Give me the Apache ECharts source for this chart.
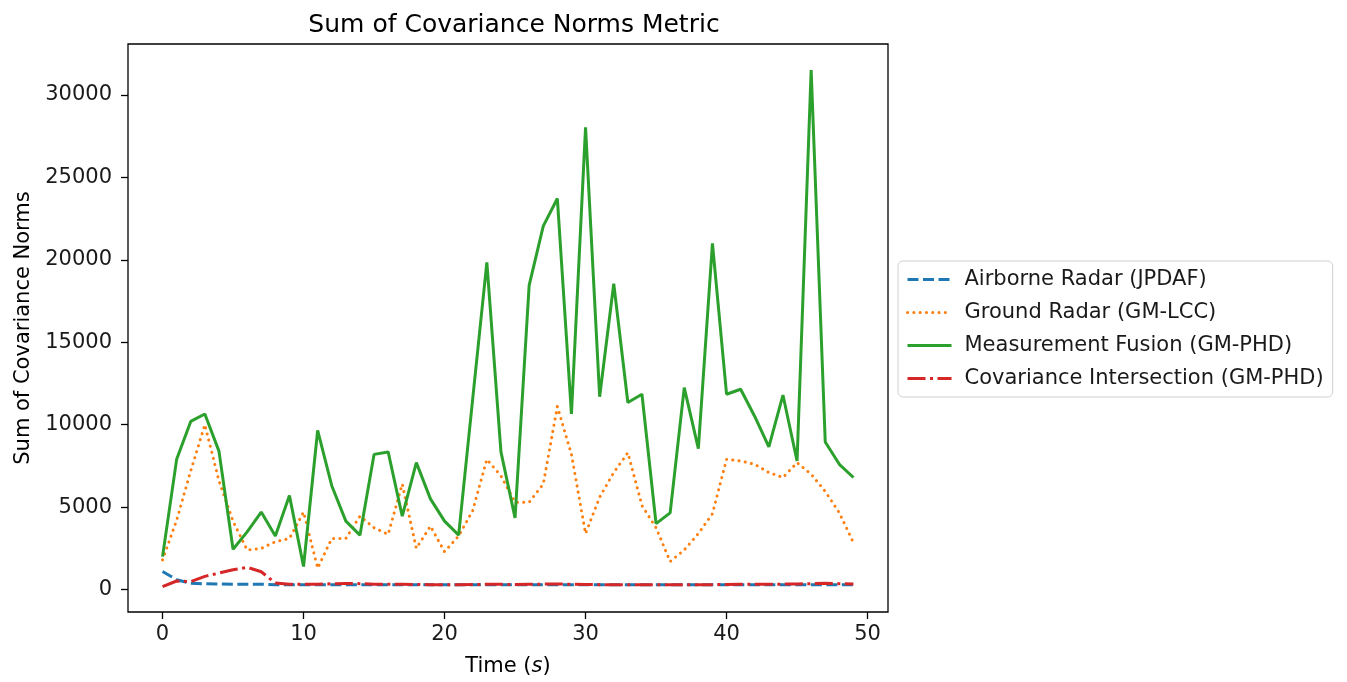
<!DOCTYPE html>
<html><head><meta charset="utf-8">
<script src="https://cdn.jsdelivr.net/npm/echarts@6/dist/echarts.min.js"></script>
<style>html,body{margin:0;padding:0;background:#fff}#c{width:1347px;height:682px}</style>
</head><body><div id="c"></div>
<script>
const time = Array.from({length: 50}, (_, i) => i);
const airborne = [1100,600,380,350,340,330,330,330,300,300,300,300,300,300,300,300,300,300,290,290,290,290,290,290,290,290,290,290,290,290,290,290,290,290,290,290,290,290,290,290,290,290,290,290,290,290,290,290,290,290];
const ground = [1800,4200,7200,10000,6600,4150,2400,2500,2900,3100,4700,1300,3100,3100,4450,3750,3350,6400,2500,3850,2300,3250,4800,7900,6900,5300,5300,6400,11100,8200,3400,5600,7100,8300,5100,3750,1700,2400,3400,4600,7900,7800,7600,7100,6800,7700,7000,5950,4650,2850];
const fusion = [2000,7900,10200,10650,8400,2450,3500,4700,3250,5700,1400,9650,6300,4150,3300,8200,8350,4450,7700,5500,4150,3300,11600,19850,8350,4350,18450,22050,23720,10650,28040,11700,18550,11350,11850,4000,4650,12250,8550,21000,11850,12150,10500,8650,11800,7800,31520,8950,7600,6800];
const covint = [180,520,480,800,1000,1200,1350,1080,400,320,320,320,350,370,360,330,330,320,310,300,300,300,310,320,320,310,320,330,340,320,310,300,300,300,290,290,290,290,290,300,310,320,320,330,330,340,360,380,360,340];
const names = ['Airborne Radar (JPDAF)','Ground Radar (GM-LCC)','Measurement Fusion (GM-PHD)','Covariance Intersection (GM-PHD)'];
const yTicks = [0,5000,10000,15000,20000,25000,30000];
const xTicks = [0,10,20,30,40,50];

const font = 'DejaVu Sans';
const pair = arr => arr.map((v,i)=>[time[i], v]);
const chart = echarts.init(document.getElementById('c'));
const mk = (name, data, color, type, cap) => ({
  name, type:'line', data: pair(data), symbol:'none', showSymbol:false, animation:false,
  lineStyle:{color, width:3, type, cap: cap||'butt'}, itemStyle:{color}
});
chart.setOption({
  animation:false,
  title:{text:'Sum of Covariance Norms Metric', left:509, top:8, textAlign:'center',
    textStyle:{fontFamily:font, fontSize:25, fontWeight:'normal', color:'#000'}},
  grid:{left:128, top:44, right:459, bottom:70, show:true, borderColor:'#000', borderWidth:1.3, backgroundColor:'transparent'},
  legend:{orient:'vertical', left:898, top:261, data:names, itemWidth:44, itemHeight:14, itemGap:12,
    padding:[8,9,8,8], borderColor:'#d0d0d0', borderWidth:1, borderRadius:5, backgroundColor:'#fff',
    itemStyle:{opacity:0}, lineStyle:{width:3},
    textStyle:{fontFamily:font, fontSize:21, color:'#1a1a1a', padding:[0,0,0,8]}},
  xAxis:{type:'value', min:-2.45, max:51.45,
    name:'{n|Time (}{i|s}{n|)}', nameLocation:'middle', nameGap:44,
    nameTextStyle:{rich:{n:{fontFamily:font, fontSize:21, color:'#000'}, i:{fontFamily:font, fontSize:21, fontStyle:'italic', color:'#000'}}},
    axisLine:{show:false, onZero:false}, splitLine:{show:false},
    axisTick:{show:true, length:7, lineStyle:{color:'#000', width:1.3}, customValues:xTicks},
    axisLabel:{fontFamily:font, fontSize:21, color:'#1a1a1a', margin:12, customValues:xTicks, formatter:v=>String(v)}},
  yAxis:{type:'value', min:-1360, max:33094,
    name:'Sum of Covariance Norms', nameLocation:'middle', nameGap:94,
    nameTextStyle:{fontFamily:font, fontSize:21, color:'#000'},
    axisLine:{show:false, onZero:false}, splitLine:{show:false},
    axisTick:{show:true, length:7, lineStyle:{color:'#000', width:1.3}, customValues:yTicks},
    axisLabel:{fontFamily:font, fontSize:21, color:'#1a1a1a', margin:16, customValues:yTicks, formatter:v=>String(v)}},
  series:[
    mk(names[0], airborne, '#1f77b4', [11,4.5]),
    mk(names[1], ground, '#ff7f0e', [0.1,6.2], 'round'),
    mk(names[2], fusion, '#2ca02c', 'solid'),
    mk(names[3], covint, '#d62728', [18,4.5,3,4.5])
  ]
});
</script></body></html>
